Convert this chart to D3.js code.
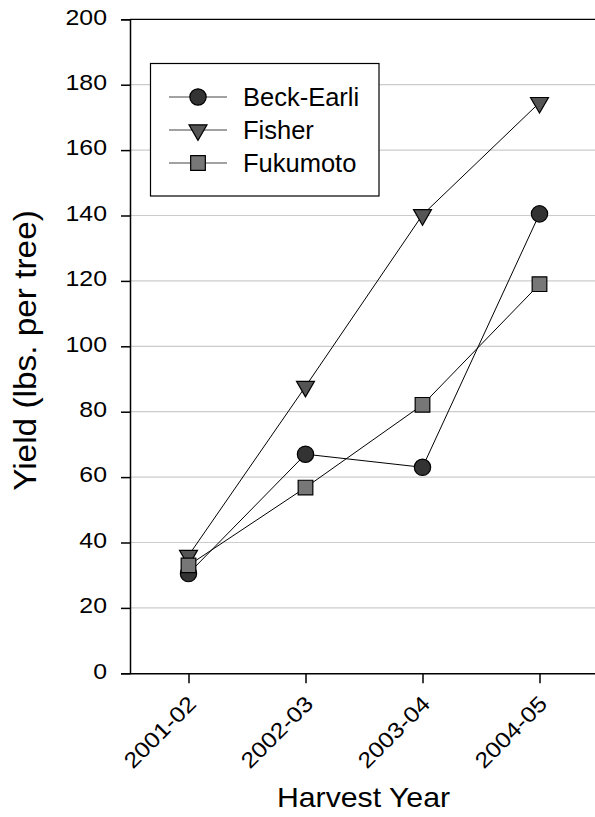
<!DOCTYPE html>
<html>
<head>
<meta charset="utf-8">
<script src="https://cdn.jsdelivr.net/npm/d3@7"></script>
<style>
  html, body { margin: 0; padding: 0; background: #fff; }
  svg { display: block; font-family: Arial, "Liberation Sans", sans-serif; }
</style>
</head>
<body>
<svg id="chart" width="595" height="817"></svg>
<script>
const categories = ["2001-02", "2002-03", "2003-04", "2004-05"];
const beckEarli = [30.5, 67, 63, 140.5];
const fisher = [36, 87.7, 140.2, 174.5];
const fukumoto = [33, 56.8, 82.1, 119];
const yTicks = [0, 20, 40, 60, 80, 100, 120, 140, 160, 180, 200];
const seriesNames = ["Beck-Earli", "Fisher", "Fukumoto"];

const series = [
  { name: seriesNames[0], values: beckEarli, shape: "circle", fill: "#333333" },
  { name: seriesNames[1], values: fisher, shape: "triangle", fill: "#555555" },
  { name: seriesNames[2], values: fukumoto, shape: "square", fill: "#777777" }
];

const FONT = "Arial, 'Liberation Sans', sans-serif";
const svg = d3.select("#chart");
const pLeft = 130, pRight = 598, pTop = 19.3, pBottom = 673.3;

const x = d3.scalePoint().domain(categories).range([pLeft, pRight]).padding(0.5);
const y = d3.scaleLinear().domain([0, 200]).range([pBottom, pTop]);

// gridlines
svg.append("g")
  .selectAll("line")
  .data(yTicks.filter(d => d > 0 && d < 200))
  .join("line")
  .attr("x1", pLeft).attr("x2", pRight)
  .attr("y1", d => y(d)).attr("y2", d => y(d))
  .attr("stroke", "#cccccc").attr("stroke-width", 1.2);

// top frame line
svg.append("line")
  .attr("x1", pLeft).attr("x2", pRight)
  .attr("y1", y(200)).attr("y2", y(200))
  .attr("stroke", "#000").attr("stroke-width", 1.2);

// y axis
const tickStretch = 1.13;
const tickFont = 22;
const yAxis = svg.append("g")
  .attr("transform", `translate(${pLeft},0)`)
  .call(d3.axisLeft(y).tickValues(yTicks).tickSize(9).tickPadding(5).tickFormat(d3.format("d")));
yAxis.select(".domain").attr("stroke-width", 1.5);
yAxis.selectAll(".tick line").attr("stroke-width", 1.5);
yAxis.selectAll("text")
  .attr("font-size", tickFont)
  .attr("font-family", FONT)
  .attr("fill", "#000")
  .attr("x", -23 / tickStretch)
  .attr("dy", "0.22em")
  .attr("transform", `scale(${tickStretch},1)`);

// x axis
const xAxis = svg.append("g")
  .attr("transform", `translate(0,${pBottom})`)
  .call(d3.axisBottom(x).tickSize(10).tickSizeOuter(0));
xAxis.select(".domain").attr("stroke-width", 1.5);
xAxis.selectAll(".tick line").attr("stroke-width", 1.5);
xAxis.selectAll("text")
  .attr("font-size", tickFont)
  .attr("font-family", FONT)
  .attr("fill", "#000")
  .attr("text-anchor", "end")
  .attr("dy", null)
  .attr("y", null)
  .attr("transform", `translate(8.5,32) rotate(-45) scale(${tickStretch},1)`);

// symbols
const symType = { circle: d3.symbolCircle, triangle: d3.symbolTriangle, square: d3.symbolSquare };
const symSize = { circle: 210, triangle: 140, square: 215 };
function drawMarker(g, shape, fill) {
  const p = g.append("path")
    .attr("d", d3.symbol().type(symType[shape]).size(symSize[shape])())
    .attr("fill", fill).attr("stroke", "#000").attr("stroke-width", 1.2);
  if (shape === "triangle") p.attr("transform", "rotate(180)");
  return p;
}

const line = d3.line().x((d, i) => x(categories[i])).y(d => y(d));

series.forEach(s => {
  const g = svg.append("g");
  g.append("path").attr("d", line(s.values))
    .attr("fill", "none").attr("stroke", "#000").attr("stroke-width", 1);
  s.values.forEach((v, i) => {
    const mg = g.append("g").attr("transform", `translate(${x(categories[i])},${y(v)})`);
    drawMarker(mg, s.shape, s.fill);
  });
});

// legend
const legend = svg.append("g");
legend.append("rect")
  .attr("x", 150.5).attr("y", 63.5).attr("width", 228.5).attr("height", 132.5)
  .attr("fill", "#fff").attr("stroke", "#000").attr("stroke-width", 1.2);
series.forEach((s, i) => {
  const cy = 97 + i * 33;
  legend.append("line").attr("x1", 169).attr("x2", 227).attr("y1", cy).attr("y2", cy)
    .attr("stroke", "#444").attr("stroke-width", 1);
  const mg = legend.append("g").attr("transform", `translate(198,${cy})`);
  drawMarker(mg, s.shape, s.fill);
  legend.append("text").attr("x", 243).attr("y", cy).attr("dy", "0.36em")
    .attr("font-size", 25.5).attr("font-family", FONT).attr("fill", "#000").text(s.name);
});

// axis titles
svg.append("text")
  .attr("transform", `translate(36,350.5) rotate(-90) scale(1.06,1)`)
  .attr("text-anchor", "middle").attr("font-size", 31.5).attr("font-family", FONT).attr("fill", "#000")
  .text("Yield (lbs. per tree)");
svg.append("text")
  .attr("transform", `translate(363.5,807.3) scale(1.08,1)`)
  .attr("text-anchor", "middle").attr("font-size", 28).attr("font-family", FONT).attr("fill", "#000")
  .text("Harvest Year");
</script>
</body>
</html>
